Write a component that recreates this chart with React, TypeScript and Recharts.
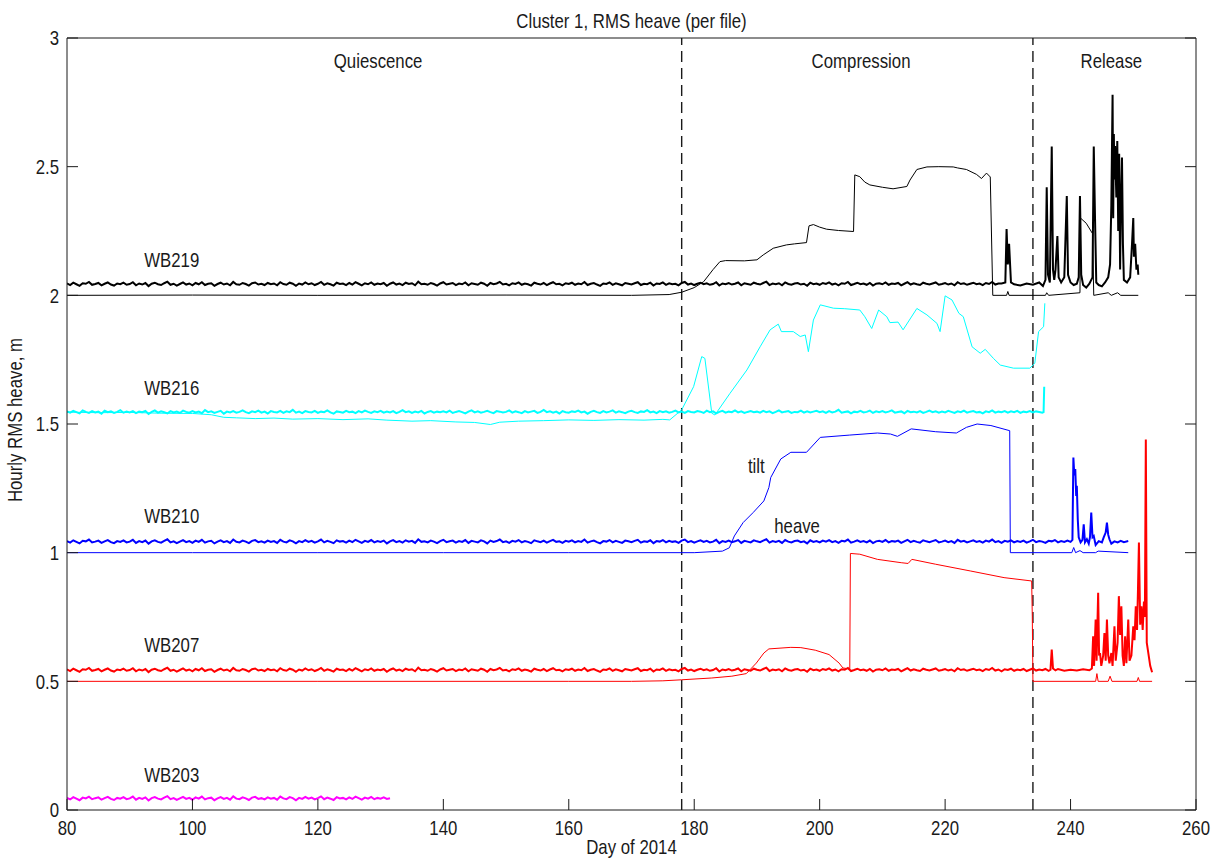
import React from 'react';
import { LineChart, Line, XAxis, YAxis, ReferenceLine, ReferenceDot, Label } from 'recharts';

const FONT = '"Liberation Sans", Arial, sans-serif';
const INK = '#1a1a1a';
const TICK_LEN = 11;
const SQUEEZE = 0.84; // the MATLAB screen font is tall and narrow

const dayTicks = [80, 100, 120, 140, 160, 180, 200, 220, 240, 260];
const valueTicks = [0, 0.5, 1, 1.5, 2, 2.5, 3];
const phaseBoundaries = [178, 234];

const annotationText = ['Quiescence', 'Compression', 'Release', 'WB219', 'WB216', 'WB210', 'WB207', 'WB203', 'tilt', 'heave'];
const annotationDay = [129.6, 206.6, 246.5, 96.7, 96.7, 96.7, 96.7, 96.7, 189.9, 196.4];
const annotationValue = [2.911, 2.911, 2.911, 2.138, 1.64, 1.143, 0.641, 0.136, 1.337, 1.104];

// heave is sampled every half day until the release period starts
const heaveStart = 80;
const heaveStep = 0.5;

// WB219 (black)
const wb219HeaveRegular = [
  2.046, 2.040, 2.049, 2.043, 2.037, 2.047, 2.045, 2.052, 2.041, 2.044, 2.048, 2.039, 2.045, 2.050, 2.042, 2.038, 2.046, 2.043, 2.049, 2.041,
  2.044, 2.051, 2.039, 2.046, 2.042, 2.048, 2.036, 2.045, 2.049, 2.043, 2.040, 2.047, 2.053, 2.041, 2.045, 2.038, 2.044, 2.050, 2.042, 2.046,
  2.039, 2.048, 2.043, 2.051, 2.040, 2.045, 2.047, 2.037, 2.044, 2.049, 2.042, 2.046, 2.039, 2.052, 2.043, 2.041, 2.048, 2.044, 2.038, 2.047,
  2.050, 2.042, 2.045, 2.040, 2.048, 2.043, 2.046, 2.039, 2.051, 2.044, 2.041, 2.049, 2.045, 2.037, 2.046, 2.042, 2.050, 2.043, 2.047, 2.040,
  2.045, 2.052, 2.041, 2.047, 2.043, 2.038, 2.049, 2.044, 2.046, 2.040, 2.048, 2.042, 2.051, 2.045, 2.039, 2.047, 2.043, 2.050, 2.041, 2.046,
  2.043, 2.048, 2.037, 2.045, 2.050, 2.042, 2.046, 2.040, 2.049, 2.044, 2.047, 2.039, 2.053, 2.043, 2.045, 2.041, 2.048, 2.044, 2.038, 2.046,
  2.051, 2.042, 2.045, 2.048, 2.040, 2.046, 2.043, 2.050, 2.039, 2.047, 2.044, 2.041, 2.049, 2.045, 2.037, 2.048, 2.043, 2.046, 2.052, 2.042,
  2.045, 2.039, 2.047, 2.044, 2.050, 2.041, 2.046, 2.043, 2.038, 2.049, 2.045, 2.042, 2.048, 2.040, 2.046, 2.051, 2.043, 2.045, 2.039, 2.047,
  2.044, 2.049, 2.041, 2.046, 2.043, 2.052, 2.040, 2.045, 2.048, 2.042, 2.037, 2.046, 2.044, 2.050, 2.041, 2.047, 2.043, 2.039, 2.048, 2.045,
  2.042, 2.047, 2.051, 2.040, 2.045, 2.043, 2.049, 2.038, 2.046, 2.044, 2.050, 2.041, 2.047, 2.043, 2.045, 2.039, 2.048, 2.052, 2.042, 2.046,
  2.040, 2.045, 2.049, 2.043, 2.047, 2.041, 2.044, 2.051, 2.038, 2.046, 2.043, 2.048, 2.042, 2.045, 2.050, 2.039, 2.047, 2.044, 2.041, 2.049,
  2.045, 2.042, 2.048, 2.053, 2.040, 2.046, 2.043, 2.047, 2.039, 2.050, 2.044, 2.041, 2.046, 2.048, 2.042, 2.045, 2.037, 2.049, 2.043, 2.046,
  2.041, 2.048, 2.044, 2.050, 2.042, 2.046, 2.039, 2.047, 2.045, 2.052, 2.040, 2.044, 2.049, 2.043, 2.046, 2.041, 2.048, 2.038, 2.045, 2.047,
  2.043, 2.050, 2.041, 2.046, 2.044, 2.048, 2.039, 2.045, 2.051, 2.042, 2.047, 2.043, 2.040, 2.049, 2.045, 2.042, 2.046, 2.050, 2.041, 2.044,
  2.048, 2.042, 2.046, 2.039, 2.051, 2.044, 2.047, 2.041, 2.045, 2.049, 2.043, 2.046, 2.040, 2.048, 2.044, 2.052, 2.042, 2.046,
];
const wb219HeaveTailDays = [
  229, 229.6, 229.8, 230.0, 230.2, 230.5, 231, 232, 233, 234,
  235, 235.6, 236.0, 236.2, 236.4, 236.7, 237.0, 237.2, 237.4, 237.6,
  237.9, 238.1, 238.5, 239.0, 239.4, 239.6, 240, 240.5, 241, 241.3,
  241.5, 241.7, 242, 242.5, 243, 243.5, 243.7, 243.9, 244.1, 244.5,
  245, 245.5, 246, 246.3, 246.5, 246.7, 246.8, 246.9, 247.0, 247.1,
  247.3, 247.45, 247.6, 247.75, 247.9, 248.0, 248.2, 248.35, 248.5, 249,
  249.5, 249.8, 250.0, 250.1, 250.3, 250.5, 250.7, 250.8,
];
const wb219HeaveTail = [
  2.046, 2.050, 2.258, 2.120, 2.200, 2.050, 2.043, 2.038, 2.046, 2.041,
  2.050, 2.036, 2.060, 2.420, 2.080, 2.050, 2.578, 2.100, 2.060, 2.100,
  2.230, 2.070, 2.050, 2.070, 2.386, 2.080, 2.050, 2.040, 2.045, 2.070,
  2.386, 2.080, 2.040, 2.030, 2.045, 2.070, 2.578, 2.300, 2.050, 2.040,
  2.035, 2.050, 2.070, 2.120, 2.350, 2.779, 2.300, 2.627, 2.450, 2.580,
  2.380, 2.600, 2.250, 2.550, 2.100, 2.300, 2.536, 2.200, 2.060, 2.050,
  2.070, 2.200, 2.300, 2.150, 2.200, 2.100, 2.120, 2.080,
];
const wb219TiltDays = [
  80, 100, 120, 150, 170, 176, 178, 180, 181.5, 183,
  184.1, 185, 188, 190, 191, 192.6, 194.7, 196, 197.9, 198.3,
  199, 200, 201.1, 203, 205.4, 205.6, 206.4, 207.2, 208, 210,
  211.7, 213.9, 214.4, 215.5, 217.1, 219, 221.3, 222, 223.4, 225,
  225.8, 226.6, 227.2, 227.6, 229.8, 230.0, 230.2, 236, 236.2, 236.5,
  241.5, 241.6, 242.5, 243.5, 243.7, 246, 246.5, 247.5, 248, 250.8,
];
const wb219Tilt = [
  2.0, 2.001, 2.0, 2.001, 2.0, 2.003, 2.012, 2.030, 2.053, 2.100,
  2.131, 2.135, 2.134, 2.138, 2.157, 2.183, 2.196, 2.200, 2.205, 2.270,
  2.275, 2.265, 2.257, 2.252, 2.248, 2.468, 2.461, 2.440, 2.429, 2.420,
  2.414, 2.423, 2.448, 2.489, 2.499, 2.500, 2.499, 2.495, 2.489, 2.470,
  2.454, 2.475, 2.460, 2.000, 2.000, 2.015, 2.000, 2.000, 2.010, 2.000,
  2.010, 2.300, 2.280, 2.240, 2.000, 2.010, 2.000, 2.010, 2.000, 2.000,
];

// WB216 (cyan)
const wb216HeaveRegular = [
  1.549, 1.544, 1.551, 1.546, 1.541, 1.553, 1.547, 1.543, 1.550, 1.545, 1.548, 1.540, 1.552, 1.546, 1.549, 1.543, 1.547, 1.554, 1.544, 1.548,
  1.545, 1.550, 1.542, 1.548, 1.546, 1.551, 1.539, 1.547, 1.553, 1.544, 1.549, 1.546, 1.541, 1.550, 1.545, 1.548, 1.543, 1.552, 1.547, 1.544,
  1.550, 1.545, 1.548, 1.542, 1.554, 1.546, 1.549, 1.543, 1.547, 1.551, 1.540, 1.548, 1.545, 1.550, 1.544, 1.547, 1.553, 1.546, 1.542, 1.549,
  1.546, 1.552, 1.544, 1.548, 1.541, 1.550, 1.547, 1.545, 1.551, 1.543, 1.549, 1.546, 1.555, 1.544, 1.548, 1.542, 1.550, 1.547, 1.545, 1.551,
  1.543, 1.548, 1.546, 1.553, 1.545, 1.540, 1.549, 1.547, 1.544, 1.551, 1.546, 1.548, 1.542, 1.550, 1.545, 1.552, 1.547, 1.543, 1.549, 1.546,
  1.551, 1.544, 1.548, 1.545, 1.550, 1.542, 1.547, 1.554, 1.546, 1.549, 1.543, 1.548, 1.545, 1.551, 1.541, 1.547, 1.550, 1.544, 1.548, 1.546,
  1.549, 1.545, 1.552, 1.543, 1.547, 1.550, 1.546, 1.541, 1.548, 1.553, 1.545, 1.549, 1.544, 1.547, 1.551, 1.546, 1.542, 1.550, 1.548, 1.545,
  1.547, 1.553, 1.544, 1.549, 1.546, 1.542, 1.550, 1.545, 1.548, 1.551, 1.543, 1.547, 1.555, 1.546, 1.549, 1.544, 1.548, 1.541, 1.550, 1.546,
  1.544, 1.549, 1.547, 1.552, 1.545, 1.548, 1.540, 1.547, 1.551, 1.546, 1.543, 1.550, 1.545, 1.548, 1.553, 1.544, 1.549, 1.546, 1.542, 1.548,
  1.551, 1.546, 1.543, 1.549, 1.547, 1.554, 1.545, 1.548, 1.542, 1.550, 1.546, 1.549, 1.544, 1.547, 1.552, 1.545, 1.548, 1.543, 1.550, 1.547,
  1.545, 1.550, 1.548, 1.543, 1.552, 1.546, 1.549, 1.541, 1.547, 1.551, 1.544, 1.548, 1.546, 1.553, 1.545, 1.549, 1.543, 1.547, 1.550, 1.546,
  1.548, 1.544, 1.551, 1.546, 1.549, 1.542, 1.547, 1.553, 1.545, 1.548, 1.550, 1.543, 1.547, 1.546, 1.552, 1.544, 1.549, 1.545, 1.548, 1.551,
  1.546, 1.549, 1.543, 1.550, 1.545, 1.548, 1.555, 1.544, 1.547, 1.549, 1.541, 1.548, 1.546, 1.551, 1.545, 1.547, 1.552, 1.543, 1.549, 1.546,
  1.550, 1.545, 1.548, 1.553, 1.544, 1.547, 1.549, 1.542, 1.551, 1.546, 1.548, 1.545, 1.550, 1.543, 1.547, 1.552, 1.546, 1.549, 1.544, 1.548,
  1.545, 1.551, 1.547, 1.543, 1.549, 1.546, 1.552, 1.544, 1.548, 1.550, 1.545, 1.547, 1.541, 1.549, 1.546, 1.553, 1.544, 1.548, 1.546, 1.550,
  1.544, 1.549, 1.546, 1.551, 1.543, 1.548, 1.546, 1.550, 1.545, 1.549, 1.547, 1.544,
];
const wb216HeaveTailDays = [235.7, 235.8];
const wb216HeaveTail = [1.546, 1.645];
const wb216TiltDays = [
  80, 85, 90, 95, 100, 103, 105, 107, 110, 113,
  116, 120, 124, 128, 131, 135, 138, 142, 145, 147.5,
  149, 152, 156, 160, 164, 168, 172, 175, 176.1, 178,
  179.9, 181.2, 181.7, 182.8, 183.3, 185.7, 188.4, 190.5, 192.1, 193.4,
  193.9, 195.8, 196.9, 197.7, 198.2, 199.0, 200.1, 202.2, 204, 206.4,
  207.2, 208.3, 209.4, 210.7, 211.2, 212.5, 213.3, 215.5, 217.1, 218.7,
  219.2, 220.0, 221.1, 222.2, 222.9, 224.3, 225.6, 226.4, 227.7, 228.8,
  230.9, 233.5, 234.3, 234.9, 235.7, 235.9,
];
const wb216Tilt = [
  1.546, 1.544, 1.545, 1.542, 1.541, 1.536, 1.526, 1.524, 1.521, 1.523,
  1.519, 1.521, 1.517, 1.520, 1.515, 1.511, 1.513, 1.508, 1.506, 1.498,
  1.507, 1.511, 1.513, 1.516, 1.514, 1.517, 1.515, 1.518, 1.516, 1.555,
  1.645, 1.762, 1.755, 1.542, 1.535, 1.619, 1.710, 1.800, 1.866, 1.888,
  1.859, 1.859, 1.840, 1.846, 1.781, 1.904, 1.963, 1.950, 1.948, 1.943,
  1.917, 1.871, 1.943, 1.917, 1.894, 1.896, 1.866, 1.949, 1.924, 1.891,
  1.859, 1.998, 1.982, 1.930, 1.917, 1.800, 1.775, 1.790, 1.755, 1.729,
  1.717, 1.717, 1.736, 1.859, 1.878, 1.969,
];

// WB210 (blue)
const wb210HeaveRegular = [
  1.045, 1.039, 1.048, 1.042, 1.036, 1.046, 1.044, 1.051, 1.040, 1.043, 1.047, 1.038, 1.044, 1.049, 1.041, 1.037, 1.045, 1.042, 1.048, 1.040,
  1.043, 1.050, 1.038, 1.045, 1.041, 1.047, 1.035, 1.044, 1.048, 1.042, 1.039, 1.046, 1.052, 1.040, 1.044, 1.037, 1.043, 1.049, 1.041, 1.045,
  1.038, 1.047, 1.042, 1.050, 1.039, 1.044, 1.046, 1.036, 1.043, 1.048, 1.041, 1.045, 1.038, 1.051, 1.042, 1.040, 1.047, 1.043, 1.037, 1.046,
  1.049, 1.041, 1.044, 1.039, 1.047, 1.042, 1.045, 1.038, 1.050, 1.043, 1.040, 1.048, 1.044, 1.036, 1.045, 1.041, 1.049, 1.042, 1.046, 1.039,
  1.044, 1.051, 1.040, 1.046, 1.042, 1.037, 1.048, 1.043, 1.045, 1.039, 1.047, 1.041, 1.050, 1.044, 1.038, 1.046, 1.042, 1.049, 1.040, 1.045,
  1.042, 1.047, 1.036, 1.044, 1.049, 1.041, 1.045, 1.039, 1.048, 1.043, 1.046, 1.038, 1.052, 1.042, 1.044, 1.040, 1.047, 1.043, 1.037, 1.045,
  1.050, 1.041, 1.044, 1.047, 1.039, 1.045, 1.042, 1.049, 1.038, 1.046, 1.043, 1.040, 1.048, 1.044, 1.036, 1.047, 1.042, 1.045, 1.051, 1.041,
  1.044, 1.038, 1.046, 1.043, 1.049, 1.040, 1.045, 1.042, 1.037, 1.048, 1.044, 1.041, 1.047, 1.039, 1.045, 1.050, 1.042, 1.044, 1.038, 1.046,
  1.043, 1.048, 1.040, 1.045, 1.042, 1.051, 1.039, 1.044, 1.047, 1.041, 1.036, 1.045, 1.043, 1.049, 1.040, 1.046, 1.042, 1.038, 1.047, 1.044,
  1.041, 1.046, 1.050, 1.039, 1.044, 1.042, 1.048, 1.037, 1.045, 1.043, 1.049, 1.040, 1.046, 1.042, 1.044, 1.038, 1.047, 1.051, 1.041, 1.045,
  1.039, 1.044, 1.048, 1.042, 1.046, 1.040, 1.043, 1.050, 1.037, 1.045, 1.042, 1.047, 1.041, 1.044, 1.049, 1.038, 1.046, 1.043, 1.040, 1.048,
  1.044, 1.041, 1.047, 1.052, 1.039, 1.045, 1.042, 1.046, 1.038, 1.049, 1.043, 1.040, 1.045, 1.047, 1.041, 1.044, 1.036, 1.048, 1.042, 1.045,
  1.040, 1.047, 1.043, 1.049, 1.041, 1.045, 1.038, 1.046, 1.044, 1.051, 1.039, 1.043, 1.048, 1.042, 1.045, 1.040, 1.047, 1.037, 1.044, 1.046,
  1.042, 1.049, 1.040, 1.045, 1.043, 1.047, 1.038, 1.044, 1.050, 1.041, 1.046, 1.042, 1.039, 1.048, 1.044, 1.041, 1.045, 1.049, 1.040, 1.043,
  1.047, 1.041, 1.045, 1.038, 1.050, 1.043, 1.046, 1.040, 1.044, 1.048, 1.042, 1.045, 1.039, 1.047, 1.043, 1.051, 1.041, 1.045, 1.038, 1.046,
  1.043, 1.048, 1.040, 1.045, 1.042, 1.047, 1.039, 1.044, 1.050, 1.041, 1.045, 1.043, 1.038, 1.046, 1.044, 1.049, 1.040, 1.045, 1.042, 1.047,
];
const wb210HeaveTailDays = [
  240.0, 240.3, 240.45, 240.6, 240.75, 240.9, 241.0, 241.15, 241.3, 241.6,
  241.9, 242.1, 242.3, 242.6, 242.9, 243.1, 243.3, 243.5, 243.7, 244.0,
  244.5, 245.0, 245.3, 245.6, 245.8, 246.0, 246.2, 246.5, 247.0, 247.5,
  248.0, 248.5, 249.2,
];
const wb210HeaveTail = [
  1.042, 1.050, 1.370, 1.300, 1.325, 1.220, 1.260, 1.130, 1.060, 1.040,
  1.050, 1.110, 1.040, 1.052, 1.035, 1.060, 1.156, 1.060, 1.065, 1.030,
  1.045, 1.040, 1.060, 1.078, 1.117, 1.070, 1.052, 1.035, 1.044, 1.040,
  1.046, 1.041, 1.045,
];
const wb210TiltDays = [
  80, 100, 120, 140, 160, 180, 184.5, 185.6, 186.4, 187.8,
  189.4, 191.1, 191.9, 192.2, 193.8, 195.4, 197.9, 200.1, 204.8, 209.2,
  211.3, 212.4, 214.6, 218.5, 221.8, 223.4, 225.1, 227.3, 230.3, 230.4,
  240.2, 240.5, 240.8, 241.5, 242.0, 244.0, 244.4, 249.2,
];
const wb210Tilt = [
  1.0, 1.0, 1.0, 1.0, 1.0, 1.0, 1.006, 1.019, 1.065, 1.117,
  1.156, 1.201, 1.253, 1.292, 1.364, 1.390, 1.390, 1.448, 1.457, 1.465,
  1.461, 1.452, 1.481, 1.470, 1.465, 1.487, 1.500, 1.494, 1.474, 1.000,
  1.000, 1.020, 1.000, 1.008, 1.000, 1.000, 1.006, 1.000,
];

// WB207 (red)
const wb207HeaveRegular = [
  0.546, 0.540, 0.549, 0.543, 0.537, 0.547, 0.545, 0.552, 0.541, 0.544, 0.548, 0.539, 0.545, 0.550, 0.542, 0.538, 0.546, 0.543, 0.549, 0.541,
  0.544, 0.551, 0.539, 0.546, 0.542, 0.548, 0.536, 0.545, 0.549, 0.543, 0.540, 0.547, 0.553, 0.541, 0.545, 0.538, 0.544, 0.550, 0.542, 0.546,
  0.539, 0.548, 0.543, 0.551, 0.540, 0.545, 0.547, 0.537, 0.544, 0.549, 0.542, 0.546, 0.539, 0.552, 0.543, 0.541, 0.548, 0.544, 0.538, 0.547,
  0.550, 0.542, 0.545, 0.540, 0.548, 0.543, 0.546, 0.539, 0.551, 0.544, 0.541, 0.549, 0.545, 0.537, 0.546, 0.542, 0.550, 0.543, 0.547, 0.540,
  0.545, 0.552, 0.541, 0.547, 0.543, 0.538, 0.549, 0.544, 0.546, 0.540, 0.548, 0.542, 0.551, 0.545, 0.539, 0.547, 0.543, 0.550, 0.541, 0.546,
  0.543, 0.548, 0.537, 0.545, 0.550, 0.542, 0.546, 0.540, 0.549, 0.544, 0.547, 0.539, 0.553, 0.543, 0.545, 0.541, 0.548, 0.544, 0.538, 0.546,
  0.551, 0.542, 0.545, 0.548, 0.540, 0.546, 0.543, 0.550, 0.539, 0.547, 0.544, 0.541, 0.549, 0.545, 0.537, 0.548, 0.543, 0.546, 0.552, 0.542,
  0.545, 0.539, 0.547, 0.544, 0.550, 0.541, 0.546, 0.543, 0.538, 0.549, 0.545, 0.542, 0.548, 0.540, 0.546, 0.551, 0.543, 0.545, 0.539, 0.547,
  0.544, 0.549, 0.541, 0.546, 0.543, 0.552, 0.540, 0.545, 0.548, 0.542, 0.537, 0.546, 0.544, 0.550, 0.541, 0.547, 0.543, 0.539, 0.548, 0.545,
  0.542, 0.547, 0.551, 0.540, 0.545, 0.543, 0.549, 0.538, 0.546, 0.544, 0.550, 0.541, 0.547, 0.543, 0.545, 0.539, 0.548, 0.552, 0.542, 0.546,
  0.540, 0.545, 0.549, 0.543, 0.547, 0.541, 0.544, 0.551, 0.538, 0.546, 0.543, 0.548, 0.542, 0.545, 0.550, 0.539, 0.547, 0.544, 0.541, 0.549,
  0.545, 0.542, 0.548, 0.553, 0.540, 0.546, 0.543, 0.547, 0.539, 0.550, 0.544, 0.541, 0.546, 0.548, 0.542, 0.545, 0.537, 0.549, 0.543, 0.546,
  0.541, 0.548, 0.544, 0.550, 0.542, 0.546, 0.539, 0.547, 0.545, 0.552, 0.540, 0.544, 0.549, 0.543, 0.546, 0.541, 0.548, 0.538, 0.545, 0.547,
  0.543, 0.550, 0.541, 0.546, 0.544, 0.548, 0.539, 0.545, 0.551, 0.542, 0.547, 0.543, 0.540, 0.549, 0.545, 0.542, 0.546, 0.550, 0.541, 0.544,
  0.548, 0.542, 0.546, 0.539, 0.551, 0.544, 0.547, 0.541, 0.545, 0.549, 0.543, 0.546, 0.540, 0.548, 0.544, 0.552, 0.542, 0.546, 0.539, 0.547,
  0.544, 0.549, 0.541, 0.546, 0.543, 0.548, 0.540, 0.545, 0.550, 0.542, 0.546, 0.543, 0.548, 0.541,
];
const wb207HeaveTailDays = [
  236.8, 237.0, 237.2, 237.6, 238, 239, 240, 241, 242, 243,
  243.4, 243.6, 243.75, 244.0, 244.15, 244.4, 244.55, 244.7, 244.9, 245.2,
  245.4, 245.6, 245.8, 246.0, 246.2, 246.5, 246.7, 247.0, 247.2, 247.5,
  247.7, 247.9, 248.1, 248.3, 248.5, 248.7, 248.9, 249.2, 249.4, 249.7,
  250.0, 250.2, 250.4, 250.6, 250.75, 250.9, 251.1, 251.3, 251.5, 251.7,
  251.85, 252.0, 252.15, 252.4, 252.7, 253.0,
];
const wb207HeaveTail = [
  0.545, 0.623, 0.550, 0.543, 0.548, 0.541, 0.545, 0.542, 0.547, 0.543,
  0.550, 0.675, 0.560, 0.740, 0.580, 0.844, 0.600, 0.610, 0.560, 0.600,
  0.688, 0.580, 0.740, 0.600, 0.570, 0.610, 0.560, 0.714, 0.580, 0.650,
  0.831, 0.680, 0.792, 0.600, 0.560, 0.675, 0.570, 0.740, 0.580, 0.600,
  0.714, 0.660, 0.792, 0.700, 0.857, 1.039, 0.720, 0.792, 0.700, 0.810,
  0.750, 1.440, 0.650, 0.610, 0.560, 0.535,
];
const wb207TiltDays = [
  80, 120, 160, 170, 175, 178, 182.8, 186, 188.3, 189.9,
  191.1, 191.9, 195.4, 197, 199.3, 201.5, 203.1, 203.7, 204.8, 204.9,
  206.4, 209.2, 213, 214.1, 214.7, 218.5, 224, 229.4, 233.8, 233.9,
  234.0, 244.0, 244.2, 244.4, 246.0, 246.3, 246.6, 250.6, 250.8, 251.0, 253.0,
];
const wb207Tilt = [
  0.5, 0.5, 0.5, 0.5, 0.502, 0.506, 0.513, 0.520, 0.530, 0.571,
  0.610, 0.626, 0.632, 0.631, 0.621, 0.604, 0.571, 0.552, 0.548, 0.997,
  0.994, 0.974, 0.961, 0.958, 0.974, 0.955, 0.929, 0.903, 0.890, 0.753,
  0.500, 0.500, 0.530, 0.500, 0.500, 0.520, 0.500, 0.500, 0.515, 0.500, 0.500,
];

// WB203 (magenta), record stops early
const wb203HeaveRegular = [
  0.047, 0.041, 0.050, 0.044, 0.038, 0.048, 0.045, 0.052, 0.042, 0.046, 0.049, 0.040, 0.046, 0.051, 0.043, 0.039, 0.047, 0.044, 0.050, 0.042,
  0.045, 0.052, 0.040, 0.047, 0.043, 0.049, 0.037, 0.046, 0.050, 0.044, 0.041, 0.048, 0.054, 0.042, 0.046, 0.039, 0.045, 0.051, 0.043, 0.047,
  0.040, 0.049, 0.044, 0.052, 0.041, 0.046, 0.048, 0.038, 0.045, 0.050, 0.043, 0.047, 0.040, 0.053, 0.044, 0.042, 0.049, 0.045, 0.039, 0.048,
  0.051, 0.043, 0.046, 0.041, 0.049, 0.044, 0.047, 0.040, 0.052, 0.045, 0.042, 0.050, 0.046, 0.038, 0.047, 0.043, 0.051, 0.044, 0.048, 0.041,
  0.046, 0.053, 0.042, 0.048, 0.044, 0.039, 0.050, 0.045, 0.047, 0.041, 0.049, 0.043, 0.052, 0.046, 0.040, 0.048, 0.044, 0.051, 0.042, 0.047,
  0.044, 0.049, 0.043, 0.046,
];

type Pt = { day: number; v: number };

const regularSeries = (values: number[]): Pt[] =>
  values.map((v, i) => ({ day: heaveStart + i * heaveStep, v }));
const pairedSeries = (days: number[], values: number[]): Pt[] =>
  days.map((day, i) => ({ day, v: values[i] }));

const tiltLines = [
  { key: 'wb219-tilt', color: '#000000', data: pairedSeries(wb219TiltDays, wb219Tilt) },
  { key: 'wb216-tilt', color: '#00ffff', data: pairedSeries(wb216TiltDays, wb216Tilt) },
  { key: 'wb210-tilt', color: '#0000ff', data: pairedSeries(wb210TiltDays, wb210Tilt) },
  { key: 'wb207-tilt', color: '#ff0000', data: pairedSeries(wb207TiltDays, wb207Tilt) },
];

const heaveLines = [
  {
    key: 'wb219-heave',
    color: '#000000',
    data: [...regularSeries(wb219HeaveRegular), ...pairedSeries(wb219HeaveTailDays, wb219HeaveTail)],
  },
  {
    key: 'wb216-heave',
    color: '#00ffff',
    data: [...regularSeries(wb216HeaveRegular), ...pairedSeries(wb216HeaveTailDays, wb216HeaveTail)],
  },
  {
    key: 'wb210-heave',
    color: '#0000ff',
    data: [...regularSeries(wb210HeaveRegular), ...pairedSeries(wb210HeaveTailDays, wb210HeaveTail)],
  },
  {
    key: 'wb207-heave',
    color: '#ff0000',
    data: [...regularSeries(wb207HeaveRegular), ...pairedSeries(wb207HeaveTailDays, wb207HeaveTail)],
  },
  { key: 'wb203-heave', color: '#ff00ff', data: regularSeries(wb203HeaveRegular) },
];

const NarrowText = ({ x, y, anchor = 'middle', baseline, dy, rotate, children }: any) => (
  <text
    transform={`translate(${x},${y})${rotate ? ' rotate(-90)' : ''} scale(${SQUEEZE},1)`}
    x={0}
    y={0}
    dy={dy}
    textAnchor={anchor}
    dominantBaseline={baseline}
    fontFamily={FONT}
    fontSize={20}
    fill={INK}
  >
    {children}
  </text>
);

// MATLAB style: ticks point into the plot box
const BottomTick = ({ x, y, payload }: any) => (
  <g>
    <line x1={x} x2={x} y1={y - 11} y2={y - 11 - TICK_LEN} stroke={INK} />
    <NarrowText x={x} y={y} dy="0.72em">{payload.value}</NarrowText>
  </g>
);
const LeftTick = ({ x, y, payload }: any) => (
  <g>
    <line x1={x + 8} x2={x + 8 + TICK_LEN} y1={y} y2={y} stroke={INK} />
    <NarrowText x={x} y={y} dy="0.36em" anchor="end">{payload.value}</NarrowText>
  </g>
);
const TopTick = ({ x, y }: any) => <line x1={x} x2={x} y1={y} y2={y + TICK_LEN} stroke={INK} />;
const RightTick = ({ x, y }: any) => <line x1={x} x2={x - TICK_LEN} y1={y} y2={y} stroke={INK} />;

export default function App() {
  return (
    <div style={{ position: 'absolute', left: 0, top: 0, width: 1219, height: 861, background: '#fff' }}>
      <LineChart width={1219} height={861} margin={{ top: 0, right: 0, bottom: 0, left: 0 }}>
        <XAxis
          xAxisId="bottom"
          type="number"
          dataKey="day"
          domain={[80, 260]}
          ticks={dayTicks}
          interval={0}
          allowDataOverflow
          height={51}
          tickSize={0}
          tickMargin={11}
          tick={BottomTick}
          axisLine={{ stroke: INK }}
        >
          <Label
            content={({ viewBox }: any) => (
              <NarrowText x={viewBox.x + viewBox.width / 2} y={viewBox.y + 44}>
                Day of 2014
              </NarrowText>
            )}
          />
        </XAxis>
        <XAxis
          xAxisId="top"
          orientation="top"
          type="number"
          domain={[80, 260]}
          ticks={dayTicks}
          interval={0}
          allowDataOverflow
          height={38}
          tickSize={0}
          tickMargin={0}
          tick={TopTick}
          axisLine={{ stroke: INK }}
        >
          <Label
            content={({ viewBox }: any) => (
              <NarrowText x={viewBox.x + viewBox.width / 2} y={viewBox.y + 28}>
                Cluster 1, RMS heave (per file)
              </NarrowText>
            )}
          />
        </XAxis>
        <YAxis
          yAxisId="left"
          type="number"
          domain={[0, 3]}
          ticks={valueTicks}
          interval={0}
          allowDataOverflow
          width={67}
          tickSize={0}
          tickMargin={8}
          tick={LeftTick}
          axisLine={{ stroke: INK }}
        >
          <Label
            content={({ viewBox }: any) => (
              <NarrowText
                x={viewBox.x + 15}
                y={viewBox.y + viewBox.height / 2 - 4}
                baseline="central"
                rotate
              >
                Hourly RMS heave, m
              </NarrowText>
            )}
          />
        </YAxis>
        <YAxis
          yAxisId="right"
          orientation="right"
          type="number"
          domain={[0, 3]}
          ticks={valueTicks}
          interval={0}
          allowDataOverflow
          width={23}
          tickSize={0}
          tickMargin={0}
          tick={RightTick}
          axisLine={{ stroke: INK }}
        />

        {phaseBoundaries.map((d) => (
          <ReferenceLine
            key={d}
            x={d}
            xAxisId="bottom"
            yAxisId="left"
            stroke={INK}
            strokeWidth={1.4}
            strokeDasharray="11 6"
          />
        ))}

        {tiltLines.map((s) => (
          <Line
            key={s.key}
            xAxisId="bottom"
            yAxisId="left"
            data={s.data}
            dataKey="v"
            type="linear"
            stroke={s.color}
            strokeWidth={1}
            dot={false}
            activeDot={false}
            isAnimationActive={false}
          />
        ))}
        {heaveLines.map((s) => (
          <Line
            key={s.key}
            xAxisId="bottom"
            yAxisId="left"
            data={s.data}
            dataKey="v"
            type="linear"
            stroke={s.color}
            strokeWidth={2}
            dot={false}
            activeDot={false}
            isAnimationActive={false}
          />
        ))}

        {annotationText.map((t, i) => (
          <ReferenceDot
            key={t}
            xAxisId="bottom"
            yAxisId="left"
            x={annotationDay[i]}
            y={annotationValue[i]}
            r={0}
            shape={({ cx, cy }: any) => (
              <NarrowText x={cx} y={cy} baseline="central">
                {t}
              </NarrowText>
            )}
          />
        ))}
      </LineChart>
    </div>
  );
}
